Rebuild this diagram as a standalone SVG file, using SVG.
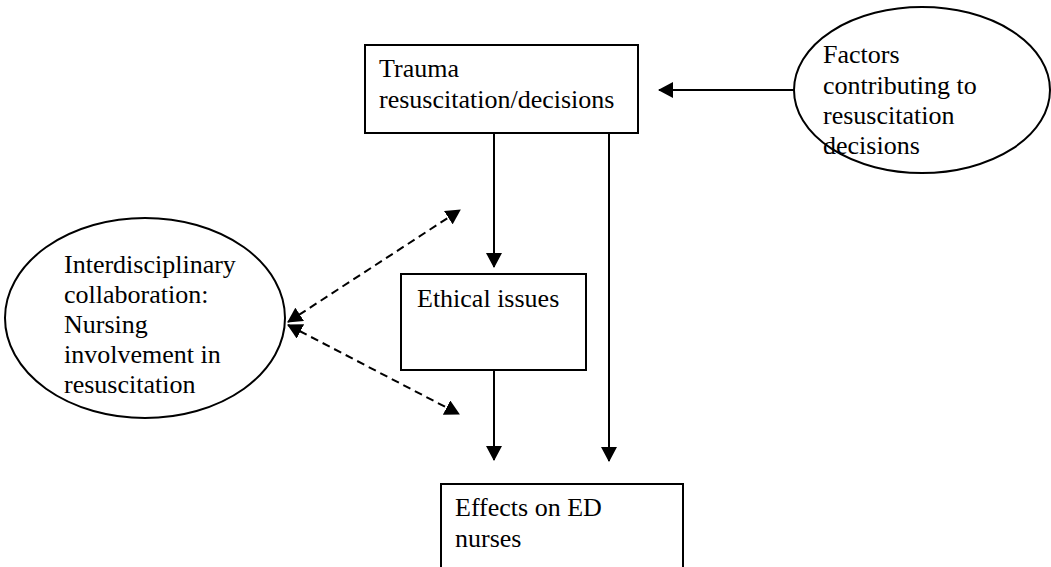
<svg xmlns="http://www.w3.org/2000/svg" width="1051" height="567" viewBox="0 0 1051 567">
<style>
.box{fill:#fff;stroke:#000;stroke-width:2}
.oval{fill:#fff;stroke:#000;stroke-width:2}
.t{font-family:"Liberation Serif","Times New Roman",serif;font-size:26px;fill:#000}
.c{stroke:#000;stroke-width:2;fill:none}
.d{stroke:#000;stroke-width:2;fill:none;stroke-dasharray:8 5}
</style>
<defs>
<marker id="ah" markerUnits="userSpaceOnUse" markerWidth="16" markerHeight="16" refX="14" refY="8" orient="auto-start-reverse" viewBox="0 0 16 16">
<path d="M0,0 L15,8 L0,16 Z" fill="#000"/>
</marker>
</defs>
<rect width="1051" height="567" fill="#fff"/>
<g id="connectors">
<line class="c" x1="794" y1="90" x2="659" y2="90" marker-end="url(#ah)"/>
<line class="c" x1="494" y1="133" x2="494" y2="267" marker-end="url(#ah)"/>
<line class="c" x1="494" y1="370" x2="494" y2="460" marker-end="url(#ah)"/>
<line class="c" x1="609" y1="133" x2="609" y2="461" marker-end="url(#ah)"/>
<line class="d" x1="288" y1="322" x2="460" y2="210" marker-start="url(#ah)" marker-end="url(#ah)"/>
<line class="d" x1="288" y1="325" x2="459" y2="414" marker-start="url(#ah)" marker-end="url(#ah)"/>
</g>
<g id="trauma">
<rect class="box" x="365" y="45" width="273" height="88"/>
<text class="t" x="379" y="77">Trauma</text>
<text class="t" x="379" y="108">resuscitation/decisions</text>
</g>
<g id="factors">
<ellipse class="oval" cx="922" cy="90" rx="128" ry="83"/>
<text class="t" x="823" y="63">Factors</text>
<text class="t" x="823" y="94">contributing to</text>
<text class="t" x="823" y="124">resuscitation</text>
<text class="t" x="823" y="154">decisions</text>
</g>
<g id="interdisciplinary">
<ellipse class="oval" cx="145" cy="318" rx="140" ry="100"/>
<text class="t" x="64" y="273">Interdisciplinary</text>
<text class="t" x="64" y="303">collaboration:</text>
<text class="t" x="64" y="333">Nursing</text>
<text class="t" x="64" y="363">involvement in</text>
<text class="t" x="64" y="393">resuscitation</text>
</g>
<g id="ethical">
<rect class="box" x="401" y="274" width="185" height="96"/>
<text class="t" x="417" y="307">Ethical issues</text>
</g>
<g id="effects">
<rect class="box" x="441" y="484" width="242" height="90"/>
<text class="t" x="455" y="516">Effects on ED</text>
<text class="t" x="455" y="547">nurses</text>
</g>
</svg>
